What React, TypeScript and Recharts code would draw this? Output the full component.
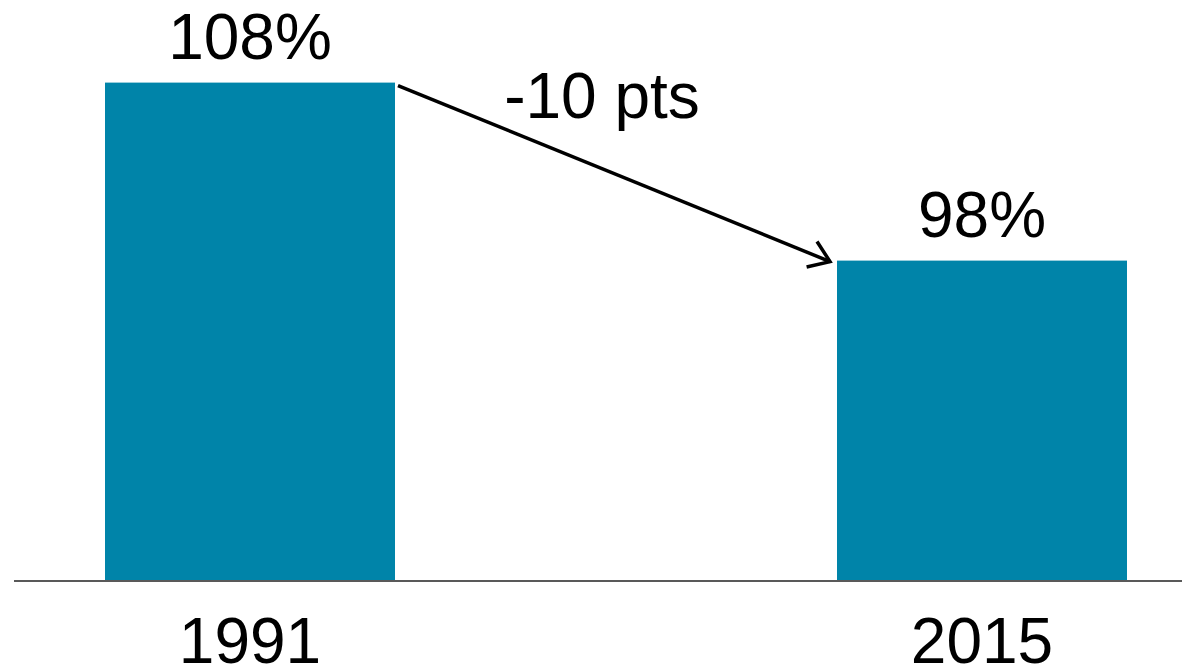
import { BarChart, Bar, XAxis, YAxis, LabelList } from "recharts";

const years = ["1991", "2015"];
const ratios = [108, 98];
const changeLabel = "-10 pts";

const data = years.map((year, i) => ({ year, value: ratios[i] }));

const BAR_COLOR = "#0084A9";
const FONT = "'Liberation Sans', Arial, sans-serif";

// geometry of bars seen during this render, used to draw the arrow
const seen: Record<number, { x: number; y: number; width: number; height: number }> = {};

function BarShape(props: any) {
  const { x, y, width, height, index } = props;
  seen[index] = { x, y, width, height };
  let arrow = null;
  if (index === 1 && seen[0]) {
    const a = seen[0];
    const x1 = a.x + a.width + 3;
    const y1 = a.y + 3;
    const x2 = x - 7;
    const y2 = y + 1;
    const ang = Math.atan2(y2 - y1, x2 - x1);
    const len = 24;
    const spread = (35 * Math.PI) / 180;
    const w1x = x2 - len * Math.cos(ang - spread);
    const w1y = y2 - len * Math.sin(ang - spread);
    const w2x = x2 - len * Math.cos(ang + spread);
    const w2y = y2 - len * Math.sin(ang + spread);
    arrow = (
      <g>
        <line x1={x1} y1={y1} x2={x2} y2={y2} stroke="#000" strokeWidth={3.5} />
        <polyline
          points={`${w1x},${w1y} ${x2},${y2} ${w2x},${w2y}`}
          fill="none"
          stroke="#000"
          strokeWidth={3.5}
        />
        <text
          x={(a.x + a.width + x) / 2 - 14}
          y={a.y + 35}
          textAnchor="middle"
          fontSize={64}
          fontFamily={FONT}
          fill="#000"
        >
          {changeLabel}
        </text>
      </g>
    );
  }
  return (
    <g>
      <rect x={x} y={y} width={width} height={height} fill={BAR_COLOR} />
      {arrow}
    </g>
  );
}

export default function App() {
  return (
    <div
      style={{
        position: "absolute",
        left: 0,
        top: 0,
        width: 1182,
        height: 668,
        fontFamily: FONT,
      }}
    >
      <BarChart
        width={1182}
        height={668}
        data={data}
        margin={{ top: 47, right: 0, bottom: 0, left: 14 }}
      >
        <XAxis
          dataKey="year"
          height={87}
          padding={{ left: -130, right: -166 }}
          tickLine={false}
          tickSize={0}
          tickMargin={37}
          axisLine={{ stroke: "#595959", strokeWidth: 2 }}
          tick={{ fontSize: 64, fill: "#000", fontFamily: FONT }}
        />
        <YAxis hide domain={[80, 110]} allowDataOverflow />
        <Bar
          dataKey="value"
          barSize={290}
          fill={BAR_COLOR}
          shape={BarShape}
          isAnimationActive={false}
        >
          <LabelList
            dataKey="value"
            position="top"
            offset={24}
            formatter={(v: any) => `${v}%`}
            style={{ fontSize: 64, fill: "#000", fontFamily: FONT }}
          />
        </Bar>
      </BarChart>
    </div>
  );
}
